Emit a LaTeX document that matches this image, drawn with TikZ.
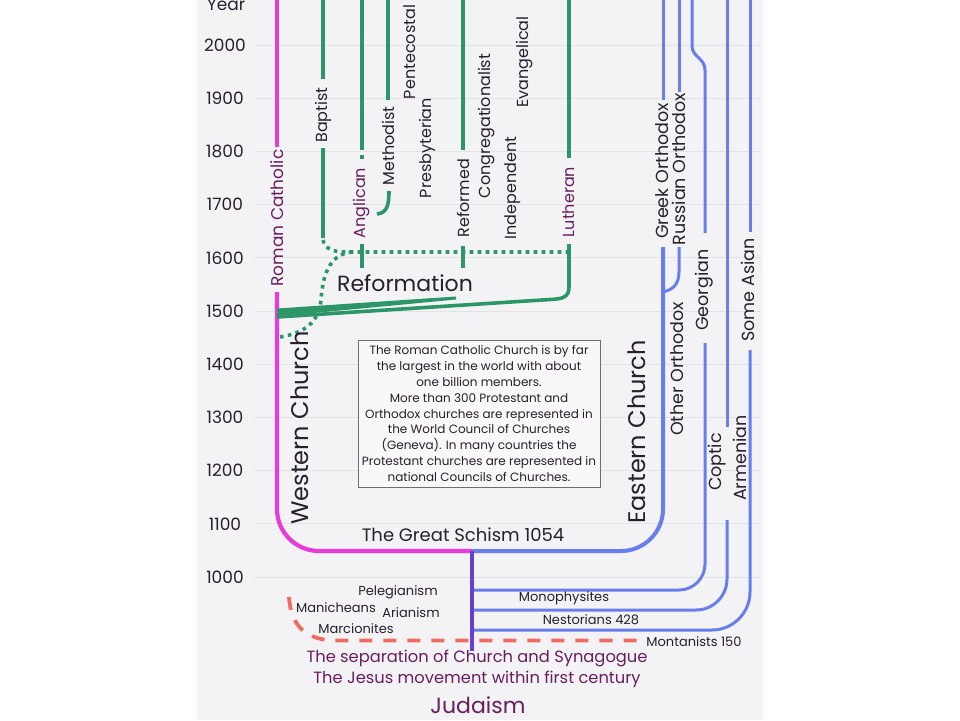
\documentclass[tikz,border=0pt]{standalone}
\usepackage{fontspec}
\setmainfont{Poppins}
\newcommand\fsz[1]{\fontsize{#1pt}{#1pt}\selectfont}
\definecolor{bg}{RGB}{243,243,245}
\definecolor{gridc}{RGB}{226,226,231}
\definecolor{mag}{RGB}{232,60,216}
\definecolor{grn}{RGB}{44,150,104}
\definecolor{blu}{RGB}{104,126,236}
\definecolor{vio}{RGB}{104,64,208}
\definecolor{sal}{RGB}{240,108,96}
\definecolor{txt}{RGB}{40,32,44}
\definecolor{pur}{RGB}{105,30,95}
\definecolor{boxgray}{RGB}{110,110,110}
\definecolor{boxfill}{RGB}{248,248,248}
\begin{document}
\begin{tikzpicture}[x=1pt,y=-1pt,
  lab/.style={inner sep=0pt, text=txt, font=\fsz{16}},
  rlab/.style={lab, rotate=90},
  blab/.style={rlab, font=\fsz{17.5}},
  yrlab/.style={lab, font=\fsz{17}},
  small/.style={lab, font=\fsz{13}},
  big/.style={lab, font=\fsz{24}},
  botlab/.style={lab, text=pur, font=\fsz{16.3}},
  gridline/.style={gridc, line width=0.8pt},
  mline/.style={mag, line width=4.2pt},
  gline/.style={grn, line width=3.6pt},
  gdot/.style={grn, line width=3.6pt, dash pattern=on 3.6pt off 4.4pt},
  bthick/.style={blu, line width=4pt},
  bline/.style={blu, line width=3pt},
  vline/.style={vio, line width=3.6pt},
  rdash/.style={sal, line width=3.8pt, dash pattern=on 13pt off 11pt},
  infobox/.style={draw=boxgray, line width=0.9pt, fill=boxfill, minimum width=242pt,
    minimum height=147pt, align=center, inner sep=0pt, text=txt,
    font=\fontsize{12pt}{15.8pt}\selectfont}
]
\useasboundingbox (0,0) rectangle (960,720);
\fill[white] (0,0) rectangle (960,720);
\fill[bg] (197,0) rectangle (763,720);

% years and grid
\node[yrlab] (yyear) at (226,5) {Year};
\foreach \yr/\yy in {2000/45,1900/98.2,1800/151.4,1700/204.6,1600/257.8,1500/311,1400/364.2,1300/417.4,1200/470.6,1100/523.8,1000/577}{
  \draw[gridline] (255,\yy) -- (760,\yy);
  \node[yrlab] (y\yr) at (225,\yy) {\yr};
}

% Western (magenta)
\draw[mline] (277,0) -- (277,147);
\draw[mline, rounded corners=42pt] (277,292) -- (277,551) -- (472,551);

% Eastern (blue)
\draw[bthick, rounded corners=42pt] (472,551) -- (663,551) -- (663,247);
\draw[bline] (663,0) -- (663,100);
\draw[bline] (679,0) -- (679,92);
\draw[bline] (679,247) -- (679,272) .. controls (679,286) and (671,290) .. (663,292);
\draw[bline] (692,0) -- (692,46) .. controls (692,57) and (705,58) .. (705,70) -- (705,233);
\draw[bline, rounded corners=26pt] (705,343) -- (705,590) -- (472,590);
\draw[bline] (727,0) -- (727,427);
\draw[bline, rounded corners=31pt] (727,520) -- (727,610) -- (472,610);
\draw[bline] (750,0) -- (750,232);
\draw[bline, rounded corners=38pt] (750,350) -- (750,630) -- (472,630);

% Protestant (green)
\draw[gline] (323,0) -- (323,79);
\draw[gline] (323,148) -- (323,238);
\draw[gdot] (323,240) .. controls (325,249) and (333,252) .. (346,252) -- (569,252);
\draw[gdot] (280,337) .. controls (305,333) and (319,322) .. (321,300) .. controls (323,270) and (332,254) .. (352,252);
\draw[gline] (362,0) -- (362,150);
\draw[gline] (362,155) -- (362,159);
\draw[gline] (362,244) -- (362,268);
\draw[gline] (388,0) -- (388,100);
\draw[gline] (389,191) .. controls (389,207) and (386,213) .. (377,214);
\draw[gline] (463,0) -- (463,150);
\draw[gline] (463,246) -- (463,268);
\draw[gline] (569,0) -- (569,158);
\draw[gline] (569,244) -- (569,287) .. controls (569,297) and (563,299) .. (550,299.5) -- (277,317);
\fill[grn] (277,308.5) -- (456,296.5) -- (456,299.5) -- (277,316.5) -- cycle;

% purple stem
\draw[vline] (472,551) -- (472,651);

% heresies (red dashed)
\draw[rdash] (289,597) .. controls (291,628) and (308,640) .. (335,640.5) -- (640,640.5);

% rotated labels
\node[rlab, font=\fsz{17}, text=pur] (rc) at (277,218) {Roman Catholic};
\node[rlab] (bap) at (323,115) {Baptist};
\node[rlab, text=pur] (ang) at (362,203) {Anglican};
\node[rlab] (meth) at (388,146) {Methodist};
\node[rlab] (pent) at (410,52) {Pentecostal};
\node[rlab] (pres) at (427,148) {Presbyterian};
\node[rlab] (refd) at (463,198) {Reformed};
\node[rlab] (cong) at (487,126) {Congregationalist};
\node[rlab] (indep) at (513,188) {Independent};
\node[rlab] (evan) at (525,62) {Evangelical};
\node[rlab, text=pur] (luth) at (569,202) {Lutheran};
\node[blab] (greek) at (662,171) {Greek Orthodox};
\node[blab] (russ) at (679,169) {Russian Orthodox};
\node[blab] (oth) at (677,369) {Other Orthodox};
\node[blab] (geo) at (704,290) {Georgian};
\node[blab] (asian) at (748,290) {Some Asian};
\node[blab] (copt) at (717,462) {Coptic};
\node[blab] (arm) at (740,458) {Armenian};

\node[big, rotate=90] (west) at (300,428) {Western Church};
\node[big, rotate=90] (east) at (637,432) {Eastern Church};
\node[lab, font=\fsz{22}] (reform) at (405,283) {Reformation};
\node[lab, font=\fsz{18}] (schism) at (463,535) {The Great Schism 1054};

\node[infobox] (info) at (479,413.5) {The Roman Catholic Church is by far\\
the largest in the world with about\\
one billion members.\\
More than 300 Protestant and\\
Orthodox churches are represented in\\
the World Council of Churches\\
(Geneva). In many countries the\\
Protestant churches are represented in\\
national Councils of Churches.};

\node[small] (pel) at (398,592) {Pelegianism};
\node[small] (man) at (336,608) {Manicheans};
\node[small] (ari) at (411,613) {Arianism};
\node[small] (marc) at (356,629) {Marcionites};
\node[small] (mono) at (564,598) {Monophysites};
\node[small] (nest) at (591,620) {Nestorians 428};
\node[small] (mont) at (694,642) {Montanists 150};

\node[botlab] (sep) at (477,658) {The separation of Church and Synagogue};
\node[botlab] (jesus) at (477,679) {The Jesus movement within first century};
\node[botlab, font=\fsz{22}] (jud) at (478,705) {Judaism};
\end{tikzpicture}
\end{document}
